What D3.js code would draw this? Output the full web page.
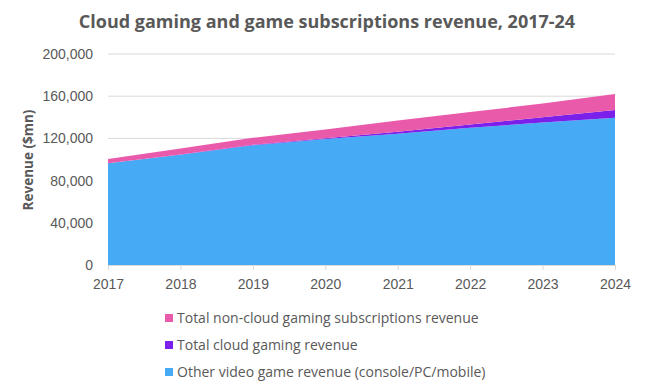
<!DOCTYPE html>
<html><head><meta charset="utf-8">
<script src="https://cdn.jsdelivr.net/npm/d3@7"></script>
<style>body{margin:0;background:#fff;} svg{display:block;font-family:"Open Sans","Noto Sans",sans-serif;}</style>
</head><body>
<svg id="chart" width="646" height="392"></svg>
<script>
const years = [2017, 2018, 2019, 2020, 2021, 2022, 2023, 2024];
const otherRevenue = [96400, 104500, 113500, 119500, 124500, 130000, 135000, 139600];
const cloudRevenue = [100, 200, 400, 700, 1800, 3200, 5000, 7300];
const nonCloudSubs = [4000, 5800, 6600, 8300, 10700, 11800, 13000, 15100];
const yTicks = [0, 40000, 80000, 120000, 160000, 200000];
const seriesNames = ["Other video game revenue (console/PC/mobile)", "Total cloud gaming revenue", "Total non-cloud gaming subscriptions revenue"];
const seriesColors = ["#47aaf5", "#7a20ea", "#ea5aab"];

const svg = d3.select("#chart");
const x = d3.scaleLinear().domain([2017, 2024]).range([108, 615]);
const y = d3.scaleLinear().domain([0, 200000]).range([265, 54]);

const rows = years.map((yr, i) => ({year: yr, s0: otherRevenue[i], s1: cloudRevenue[i], s2: nonCloudSubs[i]}));
const stack = d3.stack().keys(["s0", "s1", "s2"])(rows);

// gridlines
svg.append("g").selectAll("line").data(yTicks.filter(d => d > 0)).join("line")
  .attr("x1", 108).attr("x2", 615)
  .attr("y1", d => y(d)).attr("y2", d => y(d))
  .attr("stroke", "#d9d9d9").attr("stroke-width", 1);

// areas
const area = d3.area().x(d => x(d.data.year)).y0(d => y(d[0])).y1(d => y(d[1]));
svg.append("g").selectAll("path").data(stack).join("path")
  .attr("d", area).attr("fill", (d, i) => seriesColors[i]);

// y axis labels
const yAxis = svg.append("g").attr("transform", "translate(108,0)")
  .call(d3.axisLeft(y).tickValues(yTicks).tickSize(0).tickPadding(15).tickFormat(d3.format(",")));
yAxis.select(".domain").remove();
yAxis.selectAll("text").attr("fill", "#595959").style("font-size", "14px");

// x axis
const xAxis = svg.append("g").attr("transform", "translate(0,265)")
  .call(d3.axisBottom(x).tickValues(years).tickSize(5).tickPadding(9).tickFormat(d3.format("d")));
xAxis.select(".domain").attr("stroke", "#d9d9d9");
xAxis.selectAll("line").attr("stroke", "#d9d9d9");
xAxis.selectAll("text").attr("fill", "#595959").style("font-size", "14px");

// title
svg.append("text").attr("x", 327).attr("y", 28).attr("text-anchor", "middle")
  .attr("fill", "#595959").style("font-weight", "bold").style("font-size", "18px")
  .text("Cloud gaming and game subscriptions revenue, 2017-24");

// y axis title
svg.append("text").attr("transform", "translate(33,160) rotate(-90)").attr("text-anchor", "middle")
  .attr("fill", "#595959").style("font-weight", "bold").style("font-size", "13.5px")
  .text("Revenue ($mn)");

// legend (reverse order)
const legendOrder = [2, 1, 0];
const lg = svg.append("g").selectAll("g").data(legendOrder).join("g")
  .attr("transform", (d, i) => `translate(165,${318 + i * 27})`);
lg.append("rect").attr("x", 0).attr("y", -4).attr("width", 8).attr("height", 8).attr("fill", d => seriesColors[d]);
lg.append("text").attr("x", 12).attr("y", 0).attr("dy", "0.35em").attr("fill", "#595959")
  .style("font-size", "14px").text(d => seriesNames[d]);
</script>
</body></html>
